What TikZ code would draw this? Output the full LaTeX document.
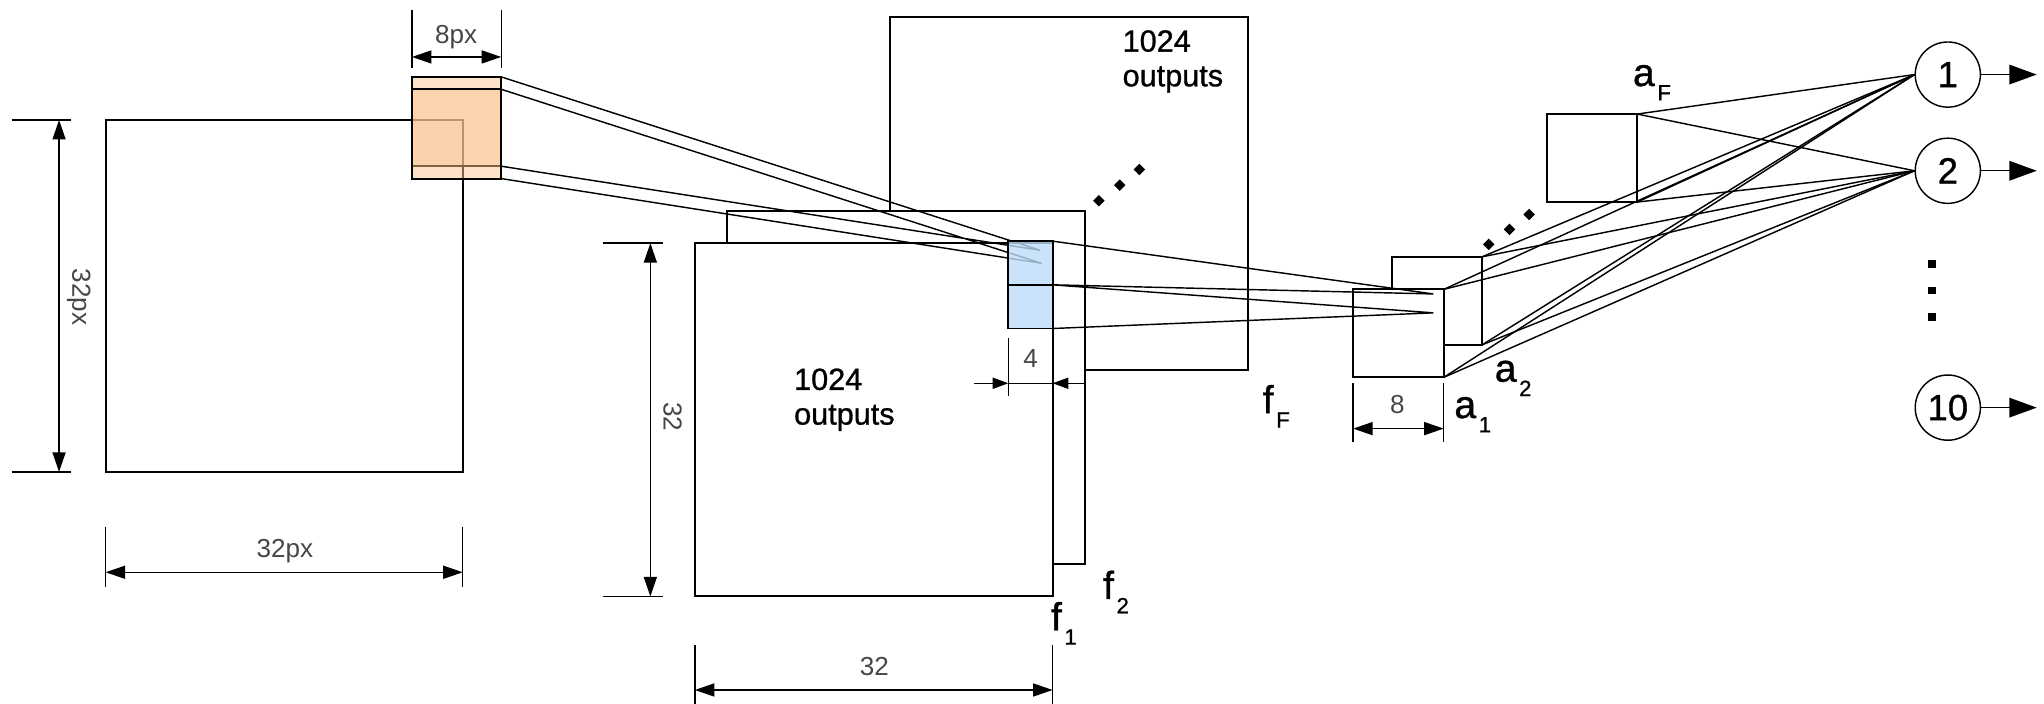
\documentclass[tikz,border=0pt]{standalone}
\usepackage{fontspec}
\setmainfont{Liberation Sans}
\newfontfamily\heavyfont[FakeBold=0.9]{Liberation Sans}
\usetikzlibrary{arrows.meta}
\definecolor{orfill}{RGB}{251,197,145}
\definecolor{blfill}{RGB}{191,221,249}
\definecolor{dimtext}{RGB}{70,70,70}
\newcommand{\sublbl}[2]{#1\kern2pt\raisebox{-11pt}{\fontsize{17}{17}\selectfont #2}}
\begin{document}
\begin{tikzpicture}[x=1pt,y=-1pt,
  box/.style={draw, line width=1.5pt, fill=white, inner sep=0pt, outer sep=0pt, anchor=north west},
  bigsq/.style={box, minimum width=274.5pt, minimum height=271pt},
  orsq/.style={box, fill=orfill, fill opacity=0.5, minimum width=68.5pt, minimum height=68.5pt},
  blsq/.style={box, fill=blfill, fill opacity=0.8, minimum width=34pt, minimum height=33.5pt},
  asq/.style={box, minimum width=69.5pt, minimum height=67.5pt},
  conn/.style={line width=1.1pt},
  tickl/.style={line width=1.1pt},
  dimarr/.style={line width=1.1pt, {Triangle[length=15pt,width=10pt]}-{Triangle[length=15pt,width=10pt]}},
  smallarr/.style={line width=1.1pt, -{Triangle[length=12pt,width=8.5pt]}},
  outarr/.style={line width=1.1pt, -{Triangle[length=21pt,width=15pt]}},
  dimtxt/.style={font=\fontsize{20}{24}\selectfont, text=dimtext, inner sep=0pt},
  outtext/.style={font=\heavyfont\fontsize{23.5}{26.6}\selectfont, align=left, inner sep=0pt, anchor=north west},
  lbl/.style={font=\heavyfont\fontsize{30}{32}\selectfont, inner sep=0pt, anchor=base west},
  outc/.style={circle, draw, line width=1.1pt, fill=white, minimum size=50pt, inner sep=0pt, font=\heavyfont\fontsize{28}{30}\selectfont}
]
\useasboundingbox (0,0) rectangle (1568,540);

% input image and receptive fields
\node[box, minimum width=274pt, minimum height=270pt] (inp) at (81,92) {};
\node[orsq] (orA) at (316,59) {};
\node[orsq] (orB) at (316,68.5) {};

% first layer feature maps
\node[bigsq] (fF) at (683,13) {};
\node[bigsq] (f2) at (558,161.5) {};
\node[bigsq] (f1) at (533,186.5) {};
\node[outtext] (tf1) at (609,282.5) {1024\\outputs};
\node[outtext] (tfF) at (861,23) {1024\\outputs};

% connections orange -> blue
\coordinate (c1) at (798,192);
\coordinate (c2) at (799,202);
\draw[conn] (orA.north east) -- (c1) (orA.south east) -- (c1)
            (orB.north east) -- (c2) (orB.south east) -- (c2);
\node[blsq] (bA) at (773.5,185) {};
\node[blsq] (bB) at (773.5,218.5) {};

% second layer
\node[asq] (a2) at (1067.5,197) {};
\node[asq] (a1) at (1038,222) {};
\node[asq] (aF) at (1186.5,87.5) {};
\coordinate (c3) at (1099.5,225.5);
\coordinate (c4) at (1099.5,240);
\draw[conn] (bA.north east) -- (c3) (bA.south east) -- (c3)
            (bB.north east) -- (c4) (bB.south east) -- (c4);

% outputs
\node[outc] (o1) at (1494.2,57.2) {1};
\node[outc] (o2) at (1494.2,131) {2};
\node[outc] (o10) at (1494.2,312.7) {10};
\foreach \s in {aF.north east, aF.south east, a2.north east, a2.south east, a1.north east, a1.south east} {
  \draw[conn] (\s) -- (o1.west);
  \draw[conn] (\s) -- (o2.west);
}
\coordinate (e1) at (1562.4,57.2);
\coordinate (e2) at (1562.4,131);
\coordinate (e10) at (1562.4,312.7);
\draw[outarr] (o1) -- (e1);
\draw[outarr] (o2) -- (e2);
\draw[outarr] (o10) -- (e10);

% dots
\foreach \p in {(843,154),(859,142),(874,130),(1142,187.5),(1158,176),(1173,164.5)}
  \fill \p +(0,-4.4) -- +(4.4,0) -- +(0,4.4) -- +(-4.4,0) -- cycle;
\foreach \yy in {202.5,223,243}
  \fill (1482,\yy) +(-2.9,-2.9) rectangle +(2.9,2.9);

% dimension: input left
\draw[tickl] (9,92) -- (54.5,92);
\draw[tickl] (9,362) -- (54.5,362);
\coordinate (d1a) at (45.3,92); \coordinate (d1b) at (45.3,362);
\draw[dimarr] (d1a) -- (d1b);
\node[dimtxt, rotate=-90, anchor=base] (t1) at (55.5,228) {32px};
% dimension: input bottom
\draw[tickl] (81,404) -- (81,450);
\draw[tickl] (355,404) -- (355,450);
\coordinate (d2a) at (81,439); \coordinate (d2b) at (355,439);
\draw[dimarr] (d2a) -- (d2b);
\node[dimtxt, anchor=base] (t2) at (218.6,427.7) {32px};
% dimension: 8px
\draw[tickl] (316,7.4) -- (316,52.5);
\draw[tickl] (384.5,7.4) -- (384.5,52.5);
\coordinate (d3a) at (316,43.7); \coordinate (d3b) at (384.5,43.7);
\draw[dimarr] (d3a) -- (d3b);
\node[dimtxt, anchor=base] (t3) at (350,33.2) {8px};
% dimension: f1 vertical
\draw[tickl] (462.5,186.5) -- (508.5,186.5);
\draw[tickl] (462.5,457.5) -- (508.5,457.5);
\coordinate (d4a) at (498.9,186.5); \coordinate (d4b) at (498.9,457.5);
\draw[dimarr] (d4a) -- (d4b);
\node[dimtxt, rotate=-90] (t4) at (515.9,319.6) {32};
% dimension: f1 bottom
\draw[tickl] (533,495) -- (533,540);
\draw[tickl] (807.5,495) -- (807.5,540);
\coordinate (d5a) at (533,529.3); \coordinate (d5b) at (807.5,529.3);
\draw[dimarr] (d5a) -- (d5b);
\node[dimtxt] (t5) at (670.7,511.4) {32};
% dimension: 4
\draw[tickl] (773.5,259.5) -- (773.5,304);
\coordinate (d6a) at (747.4,294); \coordinate (d6b) at (773.5,294);
\coordinate (d6c) at (832.3,294); \coordinate (d6d) at (807.5,294);
\draw[tickl] (d6b) -- (d6d);
\draw[smallarr] (d6a) -- (d6b);
\draw[smallarr] (d6c) -- (d6d);
\node[dimtxt] (t6) at (790.7,274.9) {4};
% dimension: 8
\draw[tickl] (1038,294) -- (1038,339);
\draw[tickl] (1107.5,294) -- (1107.5,339);
\coordinate (d7a) at (1038,328.8); \coordinate (d7b) at (1107.5,328.8);
\draw[dimarr] (d7a) -- (d7b);
\node[dimtxt] (t7) at (1072,310) {8};

% labels
\node[lbl] (lf1) at (806,483.5) {\sublbl{f}{1}};
\node[lbl] (lf2) at (846,459.5) {\sublbl{f}{2}};
\node[lbl] (lfF) at (968.5,317) {\sublbl{f}{F}};
\node[lbl] (la1) at (1115.5,320.7) {\sublbl{a}{1}};
\node[lbl] (la2) at (1146.5,292.8) {\sublbl{a}{2}};
\node[lbl] (laF) at (1252.5,66) {\sublbl{a}{F}};
\end{tikzpicture}
\end{document}
